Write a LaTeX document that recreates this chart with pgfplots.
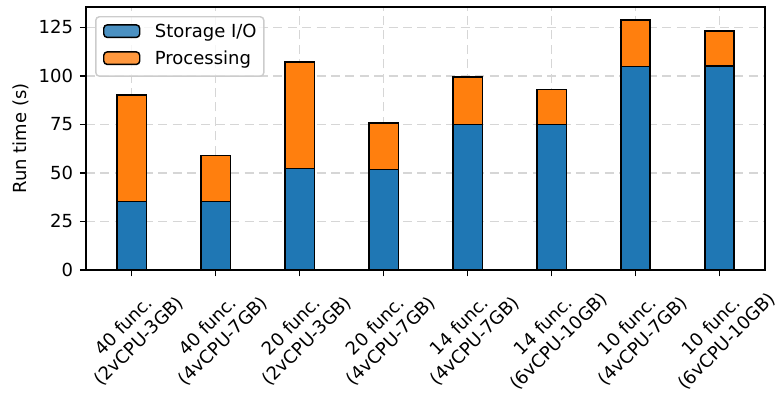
\documentclass[border=0pt]{standalone}
\usepackage{fontspec}
\setmainfont{DejaVu Sans}
\usepackage{pgfplots}
\pgfplotsset{compat=1.18}
\definecolor{mblue}{HTML}{1F77B4}
\definecolor{morange}{HTML}{FF7F0E}
\definecolor{gridc}{HTML}{D6D6D6}
\definecolor{legc}{HTML}{CCCCCC}
\begin{document}
\begin{tikzpicture}
\begin{axis}[name=ax,
  scale only axis, width=377pt, height=146pt,
  ybar stacked, bar width=0.35,
  xmin=-0.5425, xmax=7.5425, ymin=0, ymax=135.45,
  xtick={0,...,7},
  xticklabels={{40 func.\\(2vCPU-3GB)},{40 func.\\(4vCPU-7GB)},{20 func.\\(2vCPU-3GB)},{20 func.\\(4vCPU-7GB)},{14 func.\\(4vCPU-7GB)},{14 func.\\(6vCPU-10GB)},{10 func.\\(4vCPU-7GB)},{10 func.\\(6vCPU-10GB)}},
  ytick={0,25,50,75,100,125},
  /pgf/number format/assume math mode=true,
  tick align=outside, tick pos=left,
  major tick length=3.5pt,
  every tick/.style={black, line width=0.8pt},
  axis line style={black, line width=0.8pt},
  grid=major,
  grid style={gridc, line width=0.8pt, dash pattern=on 5pt off 3pt},
  xticklabel style={anchor=center, align=center, inner sep=0pt, font=\fontsize{10}{12}\selectfont, yshift=-32pt, rotate=45},
  yticklabel style={inner sep=0pt, xshift=-3.5pt},
  ylabel={Run time (s)},
  every axis y label/.style={at={(rel axis cs:0,0.5)}, xshift=-36pt, rotate=90, anchor=center},
  legend cell align=left,
  legend image code/.code={\draw[#1, line width=0.8pt] (0pt,-0.25em) rectangle (20pt,0.45em);},
  legend style={at={(0,1)}, anchor=north west, xshift=5pt, yshift=-5pt,
    draw=legc, line width=0.8pt, rounded corners=2pt, fill=white, fill opacity=0.8, text opacity=1,
    inner xsep=4pt, inner ysep=4pt, row sep=5pt, column sep=8pt,
    nodes={inner sep=0pt, text height=7.6pt, text depth=2.4pt}},
]
\addplot[fill=mblue, draw=black, line width=0.8pt] coordinates {(0,35.3) (1,35.3) (2,52.2) (3,51.8) (4,75.0) (5,75.0) (6,104.7) (7,105.0)};
\addlegendentry{Storage I/O}
\addplot[fill=morange, draw=black, line width=0.8pt] coordinates {(0,54.9) (1,23.7) (2,54.9) (3,23.9) (4,24.5) (5,18.0) (6,24.1) (7,18.1)};
\addlegendentry{Processing}
\end{axis}
\pgfresetboundingbox
\path ([xshift=-47.8pt,yshift=-74pt]ax.south west) rectangle ([xshift=7.2pt,yshift=3.9pt]ax.north east);
\end{tikzpicture}
\end{document}
